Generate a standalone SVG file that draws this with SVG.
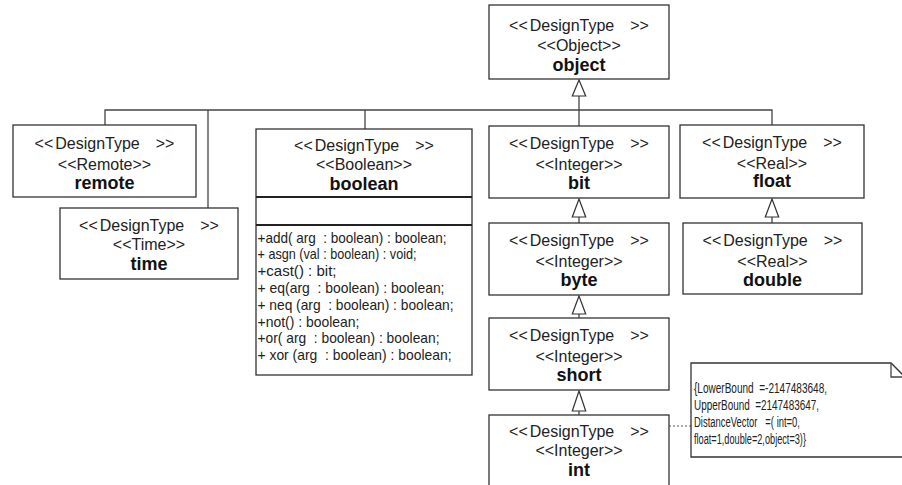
<svg xmlns="http://www.w3.org/2000/svg" width="902" height="485" viewBox="0 0 902 485">
  <defs>
    <style>
      .box { fill: #ffffff; stroke: #333333; stroke-width: 1.3; }
      .div { stroke: #222222; stroke-width: 2.2; }
      .st { font-family: "Liberation Sans", Arial, Helvetica, sans-serif; font-size: 16px; fill: #222222; text-anchor: middle; }
      .nm { font-family: "Liberation Sans", Arial, Helvetica, sans-serif; font-size: 18px; font-weight: bold; fill: #111111; text-anchor: middle; }
      .op { font-family: "Liberation Sans", Arial, Helvetica, sans-serif; font-size: 14.5px; fill: #222222; white-space: pre; }
      .nt { font-family: "Liberation Sans", Arial, Helvetica, sans-serif; font-size: 14px; fill: #222222; white-space: pre; }
      .ln { fill: none; stroke: #444444; stroke-width: 1.3; }
      .tri { fill: #ffffff; stroke: #333333; stroke-width: 1.2; }
      .dash { fill: none; stroke: #555555; stroke-width: 1; stroke-dasharray: 2 2; }
    </style>
  </defs>

  <!-- generalization connectors -->
  <g id="connectors">
    <!-- shared bar under object -->
    <polyline class="ln" points="579,96 579,110"/>
    <polyline class="ln" points="105,125 105,110 772,110 772,125"/>
    <line class="ln" x1="208" y1="110" x2="208" y2="208"/>
    <line class="ln" x1="365" y1="110" x2="365" y2="129"/>
    <line class="ln" x1="579" y1="110" x2="579" y2="126"/>
    <polygon class="tri" points="579,80 572.3,96 585.7,96"/>
    <!-- integer chain -->
    <line class="ln" x1="579" y1="217" x2="579" y2="223"/>
    <polygon class="tri" points="579,199 572.3,217 585.7,217"/>
    <line class="ln" x1="579" y1="314" x2="579" y2="318"/>
    <polygon class="tri" points="579,296 572.3,314 585.7,314"/>
    <line class="ln" x1="579" y1="411" x2="579" y2="415"/>
    <polygon class="tri" points="579,391 572.3,411 585.7,411"/>
    <!-- real chain -->
    <line class="ln" x1="772" y1="217" x2="772" y2="223"/>
    <polygon class="tri" points="772,199 765.3,217 778.7,217"/>
    <!-- note anchor -->
    <line class="dash" x1="669" y1="426" x2="691" y2="426"/>
  </g>

  <g id="object">
    <rect class="box" x="489" y="5" width="180" height="74"/>
    <text class="st" x="579" y="31">&lt;&lt;<tspan dx="2">DesignType</tspan><tspan dx="16">&gt;&gt;</tspan></text>
    <text class="st" x="579" y="51">&lt;&lt;Object&gt;&gt;</text>
    <text class="nm" x="579" y="71">object</text>
  </g>

  <g id="remote">
    <rect class="box" x="13" y="125" width="183" height="72"/>
    <text class="st" x="104.5" y="149">&lt;&lt;<tspan dx="2">DesignType</tspan><tspan dx="16">&gt;&gt;</tspan></text>
    <text class="st" x="104.5" y="170">&lt;&lt;Remote&gt;&gt;</text>
    <text class="nm" x="104.5" y="189">remote</text>
  </g>

  <g id="time">
    <rect class="box" x="60" y="208" width="178" height="71"/>
    <text class="st" x="149" y="231">&lt;&lt;<tspan dx="2">DesignType</tspan><tspan dx="16">&gt;&gt;</tspan></text>
    <text class="st" x="149" y="250">&lt;&lt;Time&gt;&gt;</text>
    <text class="nm" x="149" y="270">time</text>
  </g>

  <g id="boolean">
    <rect class="box" x="256" y="129" width="216" height="246"/>
    <line class="div" x1="256" y1="197" x2="472" y2="197"/>
    <line class="div" x1="256" y1="225" x2="472" y2="225"/>
    <text class="st" x="364" y="151">&lt;&lt;<tspan dx="2">DesignType</tspan><tspan dx="16">&gt;&gt;</tspan></text>
    <text class="st" x="364" y="170">&lt;&lt;Boolean&gt;&gt;</text>
    <text class="nm" x="364" y="190">boolean</text>
    <text class="op" x="257.5" y="242.5" textLength="189" lengthAdjust="spacingAndGlyphs">+add( arg  : boolean) : boolean;</text>
    <text class="op" x="257.5" y="259.3" textLength="159" lengthAdjust="spacingAndGlyphs">+ asgn (val : boolean) : void;</text>
    <text class="op" x="257.5" y="276.1" textLength="79" lengthAdjust="spacingAndGlyphs">+cast() : bit;</text>
    <text class="op" x="257.5" y="292.9" textLength="187" lengthAdjust="spacingAndGlyphs">+ eq(arg  : boolean) : boolean;</text>
    <text class="op" x="257.5" y="309.7" textLength="196" lengthAdjust="spacingAndGlyphs">+ neq (arg  : boolean) : boolean;</text>
    <text class="op" x="257.5" y="326.5" textLength="102" lengthAdjust="spacingAndGlyphs">+not() : boolean;</text>
    <text class="op" x="257.5" y="343.3" textLength="182" lengthAdjust="spacingAndGlyphs">+or( arg  : boolean) : boolean;</text>
    <text class="op" x="257.5" y="360.1" textLength="194" lengthAdjust="spacingAndGlyphs">+ xor (arg  : boolean) : boolean;</text>
  </g>

  <g id="bit">
    <rect class="box" x="489" y="126" width="180" height="72"/>
    <text class="st" x="579" y="149">&lt;&lt;<tspan dx="2">DesignType</tspan><tspan dx="16">&gt;&gt;</tspan></text>
    <text class="st" x="579" y="170">&lt;&lt;Integer&gt;&gt;</text>
    <text class="nm" x="579" y="189">bit</text>
  </g>

  <g id="byte">
    <rect class="box" x="489" y="223" width="180" height="72"/>
    <text class="st" x="579" y="246">&lt;&lt;<tspan dx="2">DesignType</tspan><tspan dx="16">&gt;&gt;</tspan></text>
    <text class="st" x="579" y="267">&lt;&lt;Integer&gt;&gt;</text>
    <text class="nm" x="579" y="286">byte</text>
  </g>

  <g id="short">
    <rect class="box" x="489" y="318" width="180" height="72"/>
    <text class="st" x="579" y="341">&lt;&lt;<tspan dx="2">DesignType</tspan><tspan dx="16">&gt;&gt;</tspan></text>
    <text class="st" x="579" y="362">&lt;&lt;Integer&gt;&gt;</text>
    <text class="nm" x="579" y="381">short</text>
  </g>

  <g id="int">
    <rect class="box" x="489" y="415" width="180" height="80"/>
    <text class="st" x="579" y="437">&lt;&lt;<tspan dx="2">DesignType</tspan><tspan dx="16">&gt;&gt;</tspan></text>
    <text class="st" x="579" y="456">&lt;&lt;Integer&gt;&gt;</text>
    <text class="nm" x="579" y="476">int</text>
  </g>

  <g id="float">
    <rect class="box" x="680" y="125" width="184" height="73"/>
    <text class="st" x="772" y="148">&lt;&lt;<tspan dx="2">DesignType</tspan><tspan dx="16">&gt;&gt;</tspan></text>
    <text class="st" x="772" y="169">&lt;&lt;Real&gt;&gt;</text>
    <text class="nm" x="772" y="187">float</text>
  </g>

  <g id="double">
    <rect class="box" x="683" y="223" width="179" height="71"/>
    <text class="st" x="772.5" y="246">&lt;&lt;<tspan dx="2">DesignType</tspan><tspan dx="16">&gt;&gt;</tspan></text>
    <text class="st" x="772.5" y="267">&lt;&lt;Real&gt;&gt;</text>
    <text class="nm" x="772.5" y="286">double</text>
  </g>

  <g id="int-note">
    <polygon class="box" points="691,363 891,363 905,377 905,457 691,457"/>
    <polyline class="ln" points="891,363 891,377 905,377"/>
    <text class="nt" x="694" y="393" textLength="133" lengthAdjust="spacingAndGlyphs">{LowerBound  =-2147483648,</text>
    <text class="nt" x="694" y="410" textLength="125" lengthAdjust="spacingAndGlyphs">UpperBound  =2147483647,</text>
    <text class="nt" x="694" y="427" textLength="106" lengthAdjust="spacingAndGlyphs">DistanceVector   =( int=0,</text>
    <text class="nt" x="694" y="444" textLength="112" lengthAdjust="spacingAndGlyphs">float=1,double=2,object=3)}</text>
  </g>
</svg>
